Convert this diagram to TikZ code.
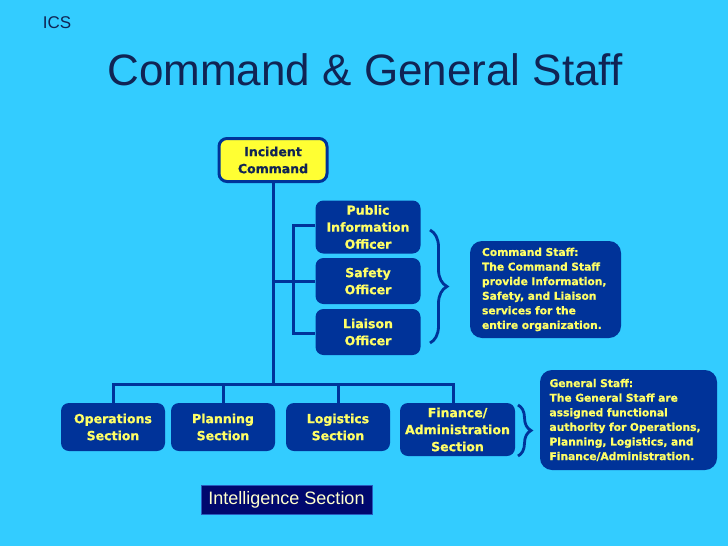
\documentclass[tikz,border=0pt]{standalone}
\usepackage{fontspec}
\setmainfont{Liberation Sans}
\newfontfamily\dvs{DejaVu Sans}[BoldFeatures={FakeBold=0.8}]
\usetikzlibrary{decorations.pathreplacing}
\definecolor{bgblue}{RGB}{51,204,255}
\definecolor{boxblue}{RGB}{0,51,153}
\definecolor{boxtext}{RGB}{255,255,102}
\definecolor{icfill}{RGB}{255,255,51}
\definecolor{navy}{RGB}{16,36,84}
\definecolor{intfill}{RGB}{0,8,110}
\definecolor{intedge}{RGB}{40,90,190}
\definecolor{inttext}{RGB}{255,255,204}
\tikzset{
  x=1pt, y=-1pt,
  unitbox/.style={fill=boxblue, text=boxtext, rounded corners=8pt, align=center,
    inner sep=0pt, font=\dvs\bfseries\fontsize{12.5}{17}\selectfont},
  descbox/.style={fill=boxblue, text=boxtext, rounded corners=12pt, align=left,
    inner sep=0pt, font=\dvs\bfseries\fontsize{10.7}{14.6}\selectfont},
  link/.style={draw=boxblue, line width=3pt},
  bracelink/.style={draw=boxblue, line width=2.8pt, decorate},
}
\begin{document}
\begin{tikzpicture}
\fill[bgblue] (0,0) rectangle (728,546);
\useasboundingbox (0,0) rectangle (728,546);

\node[text=navy, font=\fontsize{17}{20}\selectfont] (ics) at (57,23) {ICS};
\node[text=navy, font=\fontsize{44}{50}\selectfont] (title) at (365,70) {Command \& General Staff};

\node[unitbox, fill=icfill, draw=boxblue, line width=3pt, text=navy,
  minimum width=108pt, minimum height=43pt] (ic) at (273,160) {Incident\\Command};

\node[unitbox, minimum width=105pt, minimum height=53pt] (pio) at (368,227) {Public\\Information\\Officer};
\node[unitbox, minimum width=105pt, minimum height=46pt] (safety) at (368,281) {Safety\\Officer};
\node[unitbox, minimum width=105pt, minimum height=46pt] (liaison) at (368,332) {Liaison\\Officer};

\node[descbox, minimum width=151pt, minimum height=97pt, text width=135pt] (cmd) at (545.5,289.5)
  {\hspace*{4pt}Command Staff:\\\hspace*{4pt}The Command Staff\\\hspace*{4pt}provide Information,\\\hspace*{4pt}Safety, and Liaison\\\hspace*{4pt}services for the\\\hspace*{4pt}entire organization.};

\node[unitbox, minimum width=104pt, minimum height=48pt] (ops) at (113,427) {Operations\\Section};
\node[unitbox, minimum width=104pt, minimum height=48pt] (plan) at (223,427) {Planning\\Section};
\node[unitbox, minimum width=104pt, minimum height=48pt] (log) at (338,427) {Logistics\\Section};
\node[unitbox, minimum width=115pt, minimum height=53pt] (fin) at (457.5,429.5) {Finance/\\Administration\\Section};

\node[descbox, minimum width=177pt, minimum height=100pt, text width=160pt] (gen) at (628.5,420)
  {\hspace*{1pt}General Staff:\\\hspace*{1pt}The General Staff are\\\hspace*{1pt}assigned functional\\\hspace*{1pt}authority for Operations,\\\hspace*{1pt}Planning, Logistics, and\\\hspace*{1pt}Finance/Administration.};

\node[fill=intfill, draw=intedge, line width=0.8pt, text=inttext, inner sep=0pt,
  minimum width=171pt, minimum height=29pt, font=\fontsize{18}{20}\selectfont] (intel) at (286.5,500) {Intelligence Section};

% connectors
\coordinate (bus) at (273,384);
\coordinate (side) at (293,280);
\draw[link] (ic.south) -- (bus);
\draw[link] (safety.west) -- (safety.west -| ic.south);
\draw[link] ([yshift=2pt]pio.west) -| (side) |- ([yshift=-1pt]liaison.west);
\draw[link] (ops.north) |- (bus) -| ([xshift=-4pt]fin.north);
\draw[link] (plan.north) -- (plan.north |- bus);
\draw[link] (log.north) -- (log.north |- bus);

% braces
\coordinate (cb1) at (430,230);
\coordinate (cb2) at (430,343);
\draw[bracelink, decoration={brace, amplitude=17pt}] (cb1) -- (cb2);
\coordinate (gb1) at (518,405);
\coordinate (gb2) at (518,456);
\draw[bracelink, decoration={brace, amplitude=13pt}] (gb1) -- (gb2);
\end{tikzpicture}
\end{document}
